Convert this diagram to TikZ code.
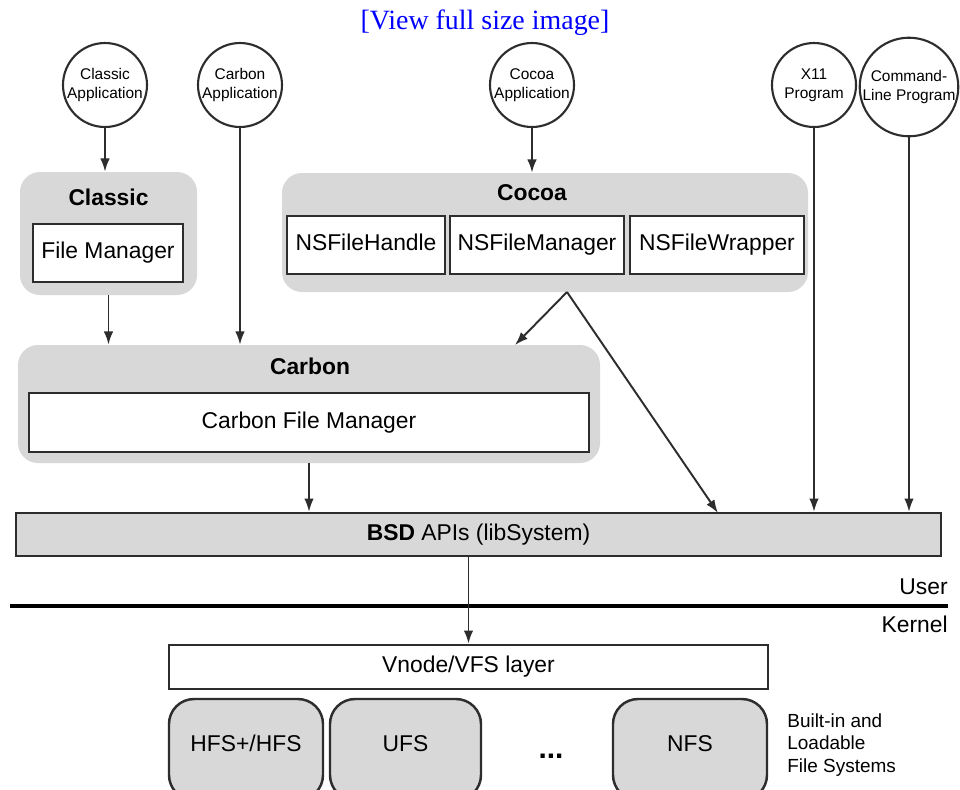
\documentclass[tikz,border=0pt]{standalone}
\usepackage{fontspec}
\setmainfont{Liberation Sans}
\newfontfamily\headfont{Liberation Serif}
\usetikzlibrary{arrows.meta}
\newdimen\pxu \pxu=0.02cm
\definecolor{panel}{RGB}{216,216,216}
\definecolor{edge}{RGB}{45,45,45}
\definecolor{linkblue}{RGB}{0,0,255}

\begin{document}
\begin{tikzpicture}[x=0.02cm,y=-0.02cm,
  font=\fontsize{13pt}{15pt}\selectfont,
  app/.style={circle,draw=edge,line width=1.2pt,fill=white,inner sep=0pt,
    minimum size=84\pxu,align=center,font=\fontsize{8.8pt}{10.8pt}\selectfont},
  panelbox/.style={fill=panel,rounded corners=0.4cm,inner sep=0pt},
  title/.style={font=\fontsize{13pt}{15pt}\selectfont\bfseries,inner sep=0pt},
  subbox/.style={draw=edge,line width=1.5pt,fill=white,inner sep=0pt,
    text height=9.4pt,text depth=2.6pt},
  barbox/.style={draw=edge,line width=1.4pt,fill=panel,inner sep=0pt,
    text height=9.4pt,text depth=2.6pt},
  fsbox/.style={draw=edge,line width=1.4pt,fill=panel,inner sep=0pt,
    rounded corners=0.5cm,minimum height=101\pxu,
    text height=16.5\pxu,text depth=13\pxu},
  arr/.style={draw=edge,line width=1.1pt,-{Latex[length=7.5pt,width=5.4pt]}},
  side/.style={inner sep=0pt,anchor=east}
]
\clip (0,0) rectangle (960,789);
\fill[white] (0,0) rectangle (960,789);

% link caption
\node[font=\headfont\fontsize{15.9pt}{18pt}\selectfont,text=linkblue,inner sep=0pt]
  (link) at (485,23) {[View full size image]};

% applications
\node[app] (clapp) at (105,85) {Classic\\Application};
\node[app] (cbapp) at (240,85) {Carbon\\Application};
\node[app] (coapp) at (532,85) {Cocoa\\Application};
\node[app] (x11)   at (814,85) {X11\\Program};
\node[app,minimum size=98\pxu] (cmd) at (909,87) {Command-\\Line Program};

% Classic environment
\node[panelbox,minimum width=177\pxu,minimum height=123\pxu] (classic) at (108.5,233.5) {};
\node[title] (classict) at (108.5,197) {Classic};
\node[subbox,minimum width=150\pxu,minimum height=58\pxu] (fm) at (108,253) {File Manager};

% Cocoa environment
\node[panelbox,minimum width=526\pxu,minimum height=119\pxu] (cocoa) at (545,232.5) {};
\node[title] (cocoat) at (532,193) {Cocoa};
\node[subbox,minimum width=158\pxu,minimum height=58\pxu] (nsh) at (366,245) {NSFileHandle};
\node[subbox,minimum width=174\pxu,minimum height=58\pxu] (nsm) at (537,245) {NSFileManager};
\node[subbox,minimum width=174\pxu,minimum height=58\pxu] (nsw) at (717,245) {NSFileWrapper};

% Carbon environment
\node[panelbox,minimum width=582\pxu,minimum height=118\pxu] (carbon) at (309,404) {};
\node[title] (carbont) at (310,366) {Carbon};
\node[subbox,minimum width=560\pxu,minimum height=59\pxu] (cfm) at (309,422.5) {Carbon File Manager};

% BSD layer
\node[barbox,minimum width=925\pxu,minimum height=43\pxu] (bsd) at (478.5,534.5)
  {\textbf{BSD} APIs (libSystem)};

% user / kernel boundary
\coordinate (ukl) at (10,606);
\coordinate (ukr) at (948,606);
\draw[line width=1.8pt,black] (ukl) -- (ukr);
\node[side] (user) at (948,587) {User};
\node[side] (kernel) at (948,624) {Kernel};

% kernel side
\node[subbox,minimum width=599\pxu,minimum height=44\pxu] (vnode) at (468.5,667) {Vnode/VFS layer};
\node[fsbox,minimum width=154\pxu] (hfs) at (246,749.5) {HFS+/HFS};
\node[fsbox,minimum width=151\pxu] (ufs) at (405.5,749.5) {UFS};
\node[fsbox,minimum width=154\pxu] (nfs) at (690,749.5) {NFS};
\node[font=\fontsize{17pt}{19pt}\selectfont\bfseries,inner sep=0pt,anchor=base] (dots) at (551,758) {...};
\node[inner sep=0pt,anchor=west,align=left,font=\fontsize{10.8pt}{13pt}\selectfont]
  (fslabel) at (787,745) {Built-in and\\Loadable\\File Systems};

% connectors
\coordinate (cocoaout) at (567,292);
\coordinate (carbonin) at (515,345);
\coordinate (bsdin) at (718,513);
\draw[arr] (clapp.south) -- (clapp.south |- classic.north);
\draw[arr] (coapp.south) -- (coapp.south |- cocoa.north);
\draw[arr] (cbapp.south) -- (cbapp.south |- carbon.north);
\draw[arr] (classic.south) -- (classic.south |- carbon.north);
\draw[arr] (cocoaout) -- (carbonin);
\draw[arr] (cocoaout) -- (bsdin);
\draw[arr] (carbon.south) -- (carbon.south |- bsd.north);
\draw[arr] (x11.south) -- (x11.south |- bsd.north);
\draw[arr] (cmd.south) -- (cmd.south |- bsd.north);
\draw[arr] (vnode.north |- bsd.south) -- (vnode.north);
\end{tikzpicture}
\end{document}
